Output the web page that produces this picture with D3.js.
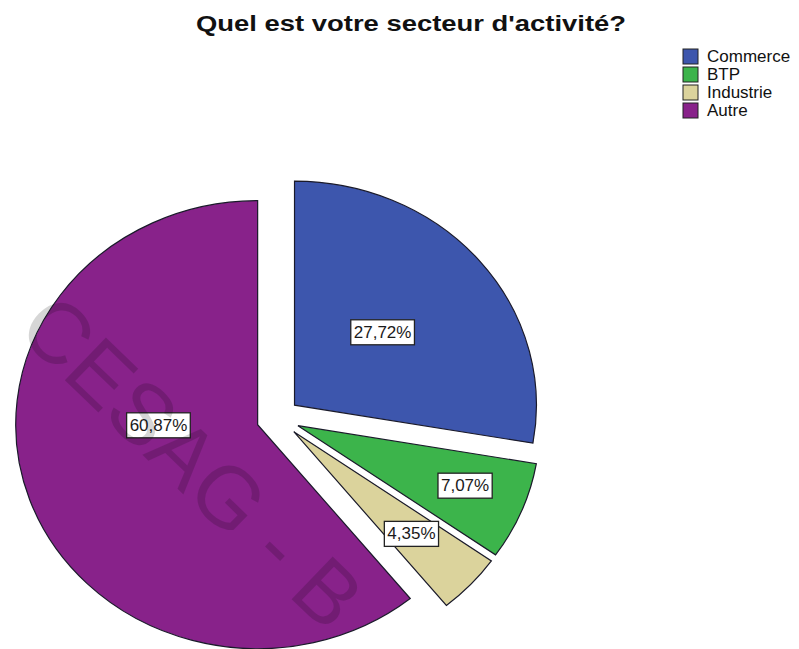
<!DOCTYPE html>
<html>
<head>
<meta charset="utf-8">
<script src="https://cdn.jsdelivr.net/npm/d3@7"></script>
<style>
  body { margin: 0; background: #fff; }
  text { font-family: Arial, "Liberation Sans", sans-serif; }
</style>
</head>
<body>
<script>
// values
const categories = ["Commerce", "BTP", "Industrie", "Autre"];
const percents = [27.72, 7.07, 4.35, 60.87];
const colors = ["#3d56ad", "#3cb44b", "#dbd39c", "#88228a"];

function main() {
    let svg = d3.select("body").append("svg")
        .attr("width", 799)
        .attr("height", 649);

    svg.append("text")
        .attr("x", 411)
        .attr("y", 31)
        .attr("text-anchor", "middle")
        .attr("textLength", 430)
        .attr("lengthAdjust", "spacingAndGlyphs")
        .text("Quel est votre secteur d'activité?")
        .style("font-size", "22px")
        .style("font-weight", "bold")
        .attr("fill", "#111");

    let data = categories.map((c, i) => ({ name: c, value: percents[i], color: colors[i] }));

    let pie = d3.pie().sort(null).value(d => d.value);
    let radius = 224;
    let sx = 1.08;       // the picture is a bit wider than tall
    let explode = 20;
    let arc = d3.arc().innerRadius(0).outerRadius(radius);

    // where each percentage box sits: angle (deg) and fraction of radius from slice tip
    let labelAngle = [48, 111, 133, 270];
    let labelR = [0.49, 0.74, 0.665, 0.41];

    let chart = svg.append("g").attr("transform", "translate(278,418)");
    let slices = pie(data);

    function shift(s) {
        let mid = (s.startAngle + s.endAngle) / 2;
        return [explode * Math.sin(mid) * sx, -explode * Math.cos(mid)];
    }

    slices.forEach(function (s) {
        let [ox, oy] = shift(s);
        chart.append("path")
            .attr("transform", `translate(${ox},${oy}) scale(${sx},1)`)
            .attr("d", arc(s))
            .attr("fill", s.data.color)
            .attr("stroke", "#1a1a2a")
            .attr("stroke-width", 1.2)
            .attr("vector-effect", "non-scaling-stroke");
    });

    // faint watermark across the picture
    svg.append("text")
        .attr("transform", "translate(15,332) rotate(44)")
        .text("CESAG - B")
        .style("font-size", "86px")
        .attr("fill", "rgba(0,0,0,0.16)");

    slices.forEach(function (s, i) {
        let [ox, oy] = shift(s);
        let a = labelAngle[i] * Math.PI / 180;
        let lx = ox + Math.sin(a) * radius * labelR[i] * sx;
        let ly = oy - Math.cos(a) * radius * labelR[i];
        let lab = chart.append("g").attr("transform", `translate(${lx},${ly})`);
        let t = lab.append("text")
            .attr("text-anchor", "middle")
            .attr("dy", "0.36em")
            .text(s.data.value.toFixed(2).replace(".", ",") + "%")
            .style("font-size", "17px")
            .attr("fill", "#1a1a1a");
        let bb = t.node().getBBox();
        lab.insert("rect", "text")
            .attr("x", bb.x - 3)
            .attr("y", bb.y - 3)
            .attr("width", bb.width + 6)
            .attr("height", bb.height + 6)
            .attr("fill", "white")
            .attr("stroke", "#222")
            .attr("stroke-width", 1.3);
    });

    // legend
    let legend = svg.append("g").attr("transform", "translate(683,49)");
    data.forEach(function (d, i) {
        let row = legend.append("g").attr("transform", `translate(0,${i * 18})`);
        row.append("rect")
            .attr("width", 15)
            .attr("height", 15)
            .attr("fill", d.color)
            .attr("stroke", "#222")
            .attr("stroke-width", 1);
        row.append("text")
            .attr("x", 24)
            .attr("y", 13)
            .text(d.name)
            .style("font-size", "17px")
            .attr("fill", "#111");
    });
}

main()
</script>
</body>
</html>
